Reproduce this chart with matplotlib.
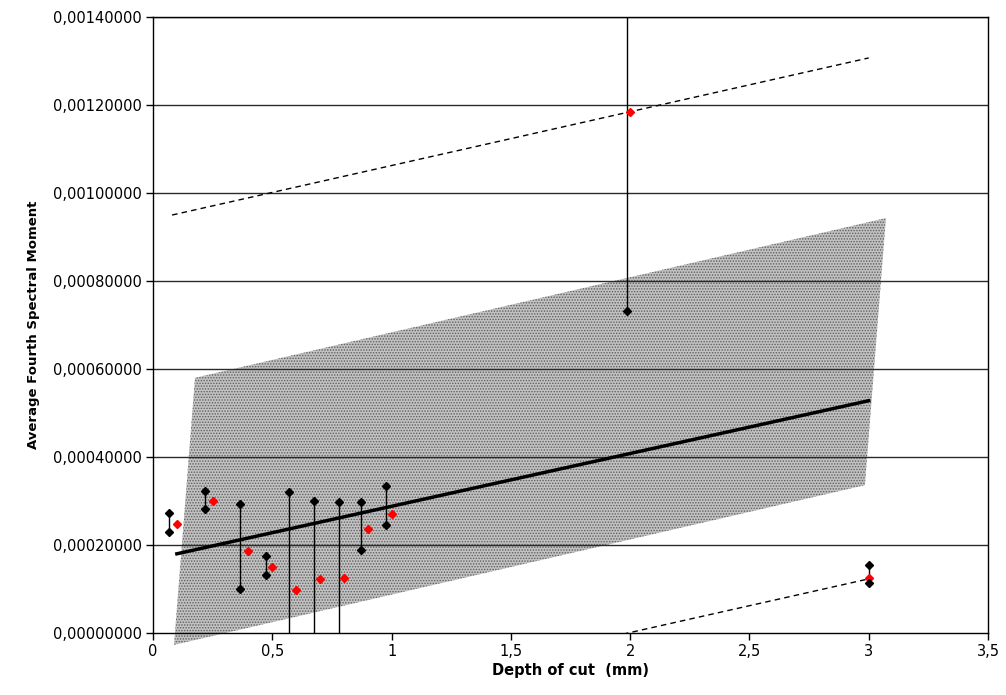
import numpy as np
import matplotlib
matplotlib.use('Agg')
import matplotlib.pyplot as plt
from matplotlib.ticker import FuncFormatter

# measured depths (mm) - means in red, min/max in black
mean_x = [0.1, 0.25, 0.4, 0.5, 0.6, 0.7, 0.8, 0.9, 1.0, 2.0, 3.0]
mean_y = [0.000248, 0.000300, 0.000186, 0.000151, 0.0000985, 0.000122,
          0.000125, 0.000236, 0.000271, 0.001184, 0.000124]

range_x = [0.065, 0.22, 0.365, 0.475, 0.57, 0.675, 0.78, 0.87, 0.975, 1.985, 3.0]
range_hi = [0.000272, 0.000323, 0.000293, 0.000175, 0.000321, 0.000300,
            0.000298, 0.000298, 0.000333, 0.00160, 0.000155]
range_lo = [0.000229, 0.000282, 0.0000993, 0.000132, -0.00010, -0.00010,
            -0.00010, 0.000189, 0.000246, 0.000732, 0.000114]

# regression line and limits
reg_x = [0.1, 3.0]
reg_y = [0.000180, 0.000528]
upper_x = [0.08, 3.0]
upper_y = [0.000950, 0.001307]
lower_x = [0.08, 3.0]
lower_y = [-0.000233, 0.000123]

# shaded band corners
band_x = [0.088, 0.176, 3.072, 2.984]
band_y = [-0.000027, 0.000580, 0.000943, 0.000336]

plt.rcParams['font.family'] = 'DejaVu Sans'
plt.rcParams['hatch.linewidth'] = 0.7
plt.rcParams['hatch.color'] = '#5e5e5e'

fig = plt.figure(figsize=(10.06, 6.95), dpi=100)
ax = fig.add_axes([0.1521, 0.0892, 0.8300, 0.8863])

ax.fill(band_x, band_y, facecolor='#c2c2c2', edgecolor='#5e5e5e', linewidth=0,
        hatch='......', clip_on=False, zorder=1)

for y in np.arange(0.0002, 0.00141, 0.0002):
    ax.axhline(y, color='#2a2a2a', lw=1, zorder=2)

ax.plot(upper_x, upper_y, color='black', lw=1, dashes=(4, 3), zorder=3)
ax.plot(lower_x, lower_y, color='black', lw=1, dashes=(4, 3), zorder=3)
ax.plot(reg_x, reg_y, color='black', lw=2.5, zorder=4)

ax.vlines(range_x, range_lo, range_hi, color='black', lw=1, zorder=5)
ax.plot(mean_x, mean_y, 'D', color='red', ms=4, mec='red', zorder=6)
ax.plot(range_x, range_hi, 'D', color='black', ms=4, zorder=7)
ax.plot(range_x, range_lo, 'D', color='black', ms=4, zorder=7)

ax.set_xlim(0, 3.5)
ax.set_ylim(0, 0.0014)
ax.set_xticks(np.arange(0, 3.51, 0.5))
ax.set_yticks(np.arange(0, 0.00141, 0.0002))
ax.xaxis.set_major_formatter(FuncFormatter(lambda v, p: ('%g' % v).replace('.', ',')))
ax.yaxis.set_major_formatter(FuncFormatter(lambda v, p: ('%.8f' % v).replace('.', ',')))
ax.tick_params(direction='out', length=5, width=1, labelsize=10.5, colors='black', pad=3)

for s in ax.spines.values():
    s.set_color('black')
    s.set_linewidth(1)

ax.set_xlabel('Depth of cut  (mm)', fontsize=10.5, fontweight='bold', labelpad=3)
ax.set_ylabel('Average Fourth Spectral Moment', fontsize=9.5, fontweight='bold', labelpad=9)

fig.savefig('out.png', dpi=100)
